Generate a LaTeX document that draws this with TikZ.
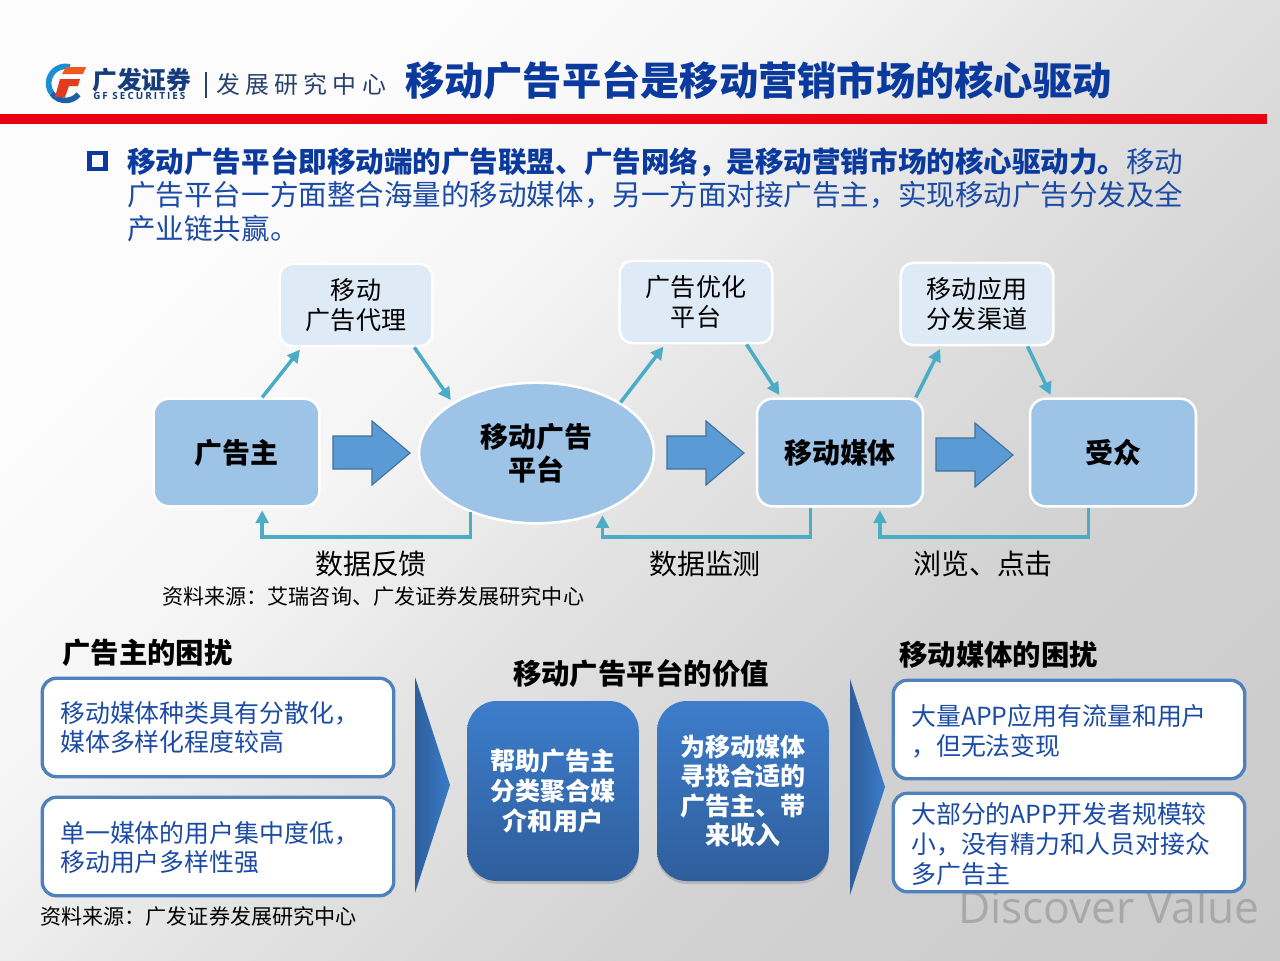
\documentclass[tikz,border=0pt]{standalone}
\usepackage{fontspec}
\setmainfont{Noto Sans CJK SC}
\newfontfamily\widefont[LetterSpace=22]{Noto Sans CJK SC}
\newfontfamily\markfont{Open Sans}
\newfontfamily\tinyfont[LetterSpace=21]{Open Sans}
\usetikzlibrary{arrows.meta,shapes.geometric,shadows}
\newcommand{\zcomma}{\symbol{"FF0C}}
\newcommand{\zcolon}{\symbol{"FF1A}}

\definecolor{bgone}{HTML}{FCFCFC}
\definecolor{bgtwo}{HTML}{F5F5F5}
\definecolor{bgthree}{HTML}{E4E4E4}
\definecolor{bgfour}{HTML}{D2D2D2}
\definecolor{bgfive}{HTML}{CACACA}
\definecolor{boxblue}{HTML}{9DC3E6}
\definecolor{paleblue}{HTML}{DEEAF6}
\definecolor{linkteal}{HTML}{4BACC6}
\definecolor{headblue}{HTML}{0B3A9E}
\definecolor{bodyblue}{HTML}{1B4BA5}
\definecolor{edgeblue}{HTML}{4F81BD}
\definecolor{blockfill}{HTML}{5B9BD5}
\definecolor{blockedge}{HTML}{41719C}
\definecolor{wedgedark}{HTML}{2E5E9C}
\definecolor{wedgelight}{HTML}{3A7CC8}
\definecolor{valuetop}{HTML}{3D7DCB}
\definecolor{valuebottom}{HTML}{2F5E9C}
\definecolor{logosky}{HTML}{1A8FD1}
\definecolor{logodeep}{HTML}{1C5FA5}
\definecolor{logoorange}{HTML}{F05A1E}
\definecolor{logored}{HTML}{E13C1E}
\definecolor{logotext}{HTML}{163C7D}
\definecolor{centertext}{HTML}{28416E}
\definecolor{barred}{HTML}{EB0012}
\definecolor{markgray}{HTML}{A8A8A8}
\pgfdeclareverticalshading{slidebg}{100bp}{color(0bp)=(bgone);color(28.8bp)=(bgone);color(40bp)=(bgtwo);color(50bp)=(bgthree);color(64.8bp)=(bgfour);color(85.35bp)=(bgfive);color(100bp)=(bgfive)}

\begin{document}
\begin{tikzpicture}[x=0.025cm, y=-0.025cm,
    big/.style={draw=white, line width=1.8pt, fill=boxblue, rounded corners=11pt, minimum width=118pt, minimum height=76.5pt, font=\fontsize{19.9}{23.5}\selectfont\bfseries, align=center},
    pale/.style={draw=white, line width=1.8pt, fill=paleblue, rounded corners=9pt, minimum width=108.5pt, minimum height=58.5pt, font=\fontsize{17.8}{21}\selectfont, align=center},
    link/.style={draw=linkteal, line width=2.5pt, -{Triangle[length=9pt,width=9pt]}, shorten >=2pt},
    block/.style={fill=blockfill, draw=blockedge, line width=0.8pt},
    wedge/.style={left color=wedgedark, right color=wedgelight},
    trouble/.style={draw=edgeblue, line width=2.4pt, fill=white, rounded corners=10pt, minimum width=250pt, minimum height=70pt},
    note/.style={anchor=west, inner sep=0pt, text=bodyblue, align=left, font=\fontsize{17.7}{20.6}\selectfont},
    wide note/.style={note, font=\fontsize{17.7}{21.6}\selectfont},
    value/.style={top color=valuetop, bottom color=valuebottom, rounded corners=21pt, minimum width=122pt, minimum height=128pt, text=white, align=center, font=\fontsize{17.8}{21}\selectfont\bfseries, drop shadow={opacity=0.35, shadow xshift=0pt, shadow yshift=-2pt}},
    head/.style={anchor=west, inner sep=0pt, font=\fontsize{20.2}{24}\selectfont\bfseries},
    source/.style={anchor=west, inner sep=0pt, font=\fontsize{15}{18}\selectfont},
    flow/.style={inner sep=0pt, font=\fontsize{19.9}{24}\selectfont}]
    \useasboundingbox (0,0) rectangle (1280,960);
    \fill[shading=slidebg, shading angle=-135] (0,0) rectangle (1280,960);

    \draw[line width=4pt, logosky] (70,67) arc[start angle=-75, end angle=-215, radius=17];
    \draw[line width=4pt, logodeep] (51.6,93.2) arc[start angle=-215, end angle=-320, radius=17];
    \fill[logoorange] (66,67) -- (86,67) -- (83,74) -- (62,74) -- cycle;
    \fill[logored] (60,79) -- (80,79) -- (78,86) -- (69,86) -- (65,97) -- (55,97) -- cycle;
    \node[anchor=west, inner sep=0pt, text=logotext, font=\fontsize{17.6}{20}\selectfont\bfseries] (n) at (92,80) {广发证券};
    \node[anchor=west, inner sep=0pt, text=logotext, font=\tinyfont\fontsize{7}{8}\selectfont\bfseries] (o) at (93,96) {GF SECURITIES};
    \node[anchor=west, inner sep=0pt, text=centertext, font=\widefont\fontsize{17}{20}\selectfont] (r) at (216,84) {发展研究中心};
    \draw[centertext, line width=0.8pt] (206,72) -- (206,98);
    \node[anchor=west, inner sep=0pt, text=headblue, font=\fontsize{27.9}{32}\selectfont\bfseries] (t) at (405,80) {移动广告平台是移动营销市场的核心驱动};
    \fill[barred] (0,113.5) rectangle (1267,124);

    \node[draw=headblue, line width=3pt, minimum size=11.5pt, inner sep=0pt] (u) at (97.5,161) {};
    \node[anchor=north west, inner sep=0pt, align=left, text=bodyblue, font=\fontsize{20.3}{23.8}\selectfont] (v) at (127,147)
      {{\bfseries\color{headblue}移动广告平台即移动端的广告联盟、广告网络\zcomma 是移动营销市场的核心驱动力。}移动\\广告平台一方面整合海量的移动媒体\zcomma 另一方面对接广告主\zcomma 实现移动广告分发及全\\产业链共赢。};

    \node[big] (a) at (236.5,452.5) {广告主};
    \node[ellipse, big, minimum width=167pt, minimum height=100pt, inner sep=0pt] (p) at (536.5,453) {移动广告\\平台};
    \node[big] (d) at (840,452.5) {移动媒体};
    \node[big] (f) at (1113,452.5) {受众};
    \node[pale] (b) at (356,305) {移动\\广告代理};
    \node[pale] (c) at (696,302) {广告优化\\平台};
    \node[pale] (e) at (977,304) {移动应用\\分发渠道};

    \foreach \x/\z in {333/421,667/421,936/423}
      \draw[block, shift={(\x,\z)}] (0,15) -- (39,15) -- (39,0) -- (77,32) -- (39,64) -- (39,48) -- (0,48) -- cycle;

    \draw[link] (a.65) -- (b.218);
    \draw[link] (b.-36) -- (p.149);
    \draw[link] (p.31) -- (c.234);
    \draw[link] (c.-40) -- (d.137);
    \draw[link] (d.36) -- (e.230);
    \draw[link] (e.-40) -- (f.138);

    \node[flow] (g) at (371,564) {数据反馈};
    \node[flow] (h) at (705,564) {数据监测};
    \node[flow] (i) at (983,564) {浏览、点击};
    \coordinate (j) at (371,537);
    \coordinate (k) at (705,537);
    \coordinate (l) at (983,537);
    \draw[link] (p.222) |- (j) -| (a.-65);
    \draw[link] (d.242) |- (k) -| (p.-42);
    \draw[link] (f.246) |- (l) -| (d.-54);

    \node[source] (m) at (162,597) {资料来源\zcolon 艾瑞咨询、广发证券发展研究中心};

    \node[head] (q) at (62,653) {广告主的困扰};
    \node[head, anchor=center] (s) at (641,674) {移动广告平台的价值};
    \node[head] (w) at (899,655) {移动媒体的困扰};

    \node[anchor=east, inner sep=0pt, text=markgray, font=\markfont\fontsize{31.5}{34}\selectfont] (dv) at (1260,907) {Discover Value};
    \node[trouble] (a1) at (218,727.5) {};
    \node[trouble] (a2) at (218,846.5) {};
    \node[trouble] (b1) at (1069,729.5) {};
    \node[trouble] (b2) at (1069,842.5) {};
    \node[note] (a3) at (60,728) {移动媒体种类具有分散化\zcomma\\媒体多样化程度较高};
    \node[note] (a4) at (60,847.5) {单一媒体的用户集中度低\zcomma\\移动用户多样性强};
    \node[wide note] (b3) at (911,731) {大量APP应用有流量和用户\\\zcomma 但无法变现};
    \node[wide note] (b4) at (911,844) {大部分的APP开发者规模较\\小\zcomma 没有精力和人员对接众\\多广告主};

    \shade[wedge] (415,677) -- (450,785) -- (415,893) -- cycle;
    \shade[wedge] (850,679) -- (885,787) -- (850,895) -- cycle;
    \node[value] (x) at (553,791) {帮助广告主\\分类聚合媒\\介和用户};
    \node[value] (y) at (743,791) {为移动媒体\\寻找合适的\\广告主、带\\来收入};

    \node[source] (z) at (40,917) {资料来源\zcolon 广发证券发展研究中心};
\end{tikzpicture}
\end{document}
